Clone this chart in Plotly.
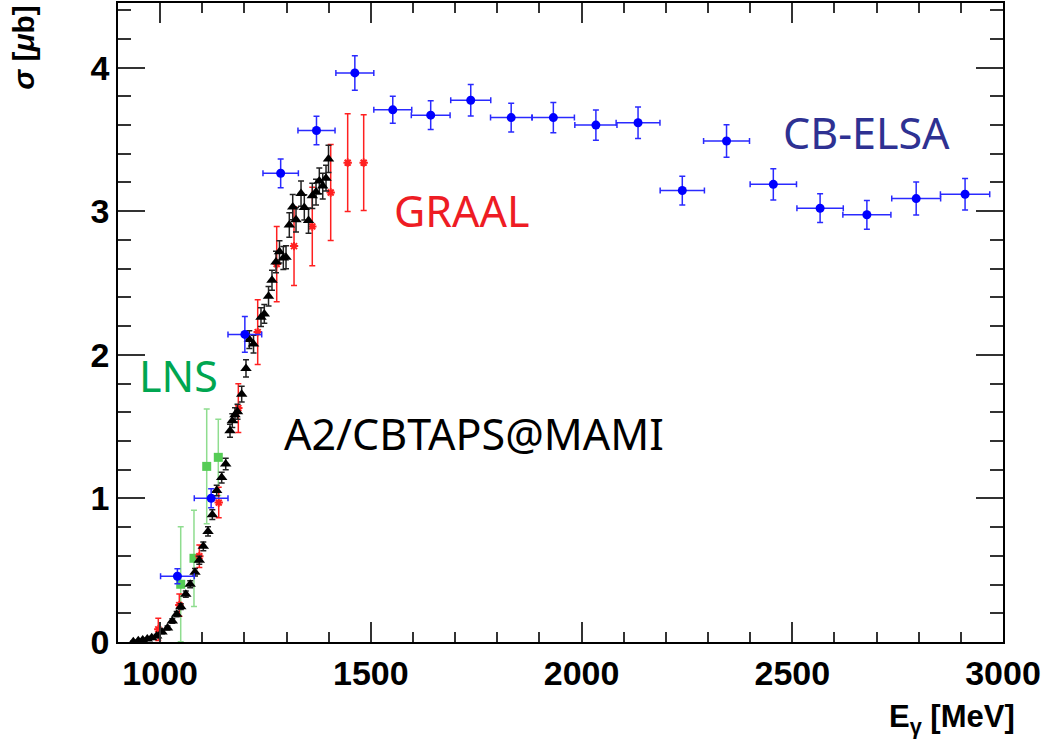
import plotly.graph_objects as go

# ---------------- data ----------------
# CB-ELSA
elsa_E = [1041, 1121, 1201, 1286, 1371, 1462, 1552, 1642, 1737, 1833,
          1933, 2034, 2134, 2239, 2344, 2455, 2566, 2677, 2794, 2910]
elsa_sig = [0.458, 1.001, 2.142, 3.264, 3.562, 3.963, 3.706, 3.669, 3.773, 3.652,
            3.652, 3.600, 3.616, 3.144, 3.489, 3.187, 3.021, 2.975, 3.088, 3.118]
elsa_dsig = [0.052, 0.066, 0.125, 0.100, 0.100, 0.120, 0.094, 0.100, 0.110, 0.100,
             0.105, 0.105, 0.110, 0.100, 0.113, 0.109, 0.100, 0.100, 0.115, 0.109]
elsa_dE = [40, 40, 40, 42, 44, 45, 45, 46, 47.5, 49,
           50, 50, 52, 52.5, 54.5, 55, 55, 57, 58, 58.5]

# GRAAL
graal_E = [995.6, 1045.5, 1093, 1139, 1185.5, 1231.5, 1276.6, 1317.7, 1361, 1404.7, 1445, 1483]
graal_sig = [0.088, 0.257, 0.597, 0.971, 1.629, 2.158, 2.632, 2.757, 2.894, 3.130, 3.338, 3.338]
graal_dsig = [0.077, 0.078, 0.078, 0.106, 0.170, 0.225, 0.262, 0.274, 0.273, 0.334, 0.340, 0.333]

# LNS
lns_E = [1048.8, 1080.3, 1110.5, 1138]
lns_sig = [0.402, 0.583, 1.223, 1.286]
lns_dsig = [0.400, 0.335, 0.400, 0.266]

# A2/CBTAPS@MAMI
a2_E = [936.3, 948.2, 958.6, 969.5, 980, 991.8, 1004.4, 1017.5, 1028.9, 1039.3,
        1049, 1060.9, 1071.3, 1082.7, 1092.9, 1102.4, 1113.6, 1123.8, 1134.2, 1146,
        1155.6, 1165.8, 1171.2, 1177.6, 1183.6, 1193.5, 1203.7, 1211.6, 1221.6, 1239.3,
        1247.2, 1257.2, 1265.4, 1274.9, 1283.2, 1292.3, 1298.7, 1306.5, 1314.6, 1322.4,
        1334.3, 1342.1, 1352.1, 1361.1, 1369.9, 1377.7, 1385.8, 1393.6, 1399.5]
a2_sig = [0.002, 0.009, 0.014, 0.021, 0.030, 0.042, 0.069, 0.097, 0.146, 0.194,
          0.246, 0.333, 0.402, 0.486, 0.569, 0.666, 0.770, 0.887, 1.055, 1.145,
          1.240, 1.471, 1.541, 1.582, 1.603, 1.726, 1.905, 2.106, 2.075, 2.262,
          2.285, 2.408, 2.519, 2.647, 2.717, 2.674, 2.679, 2.904, 3.029, 2.940,
          3.123, 3.026, 2.935, 3.107, 3.133, 3.211, 3.175, 3.230, 3.364]
a2_dsig = [0.005, 0.005, 0.006, 0.007, 0.008, 0.010, 0.012, 0.014, 0.016, 0.018,
           0.020, 0.022, 0.024, 0.026, 0.028, 0.030, 0.032, 0.034, 0.036, 0.038,
           0.040, 0.045, 0.048, 0.050, 0.052, 0.055, 0.060, 0.062, 0.062, 0.065,
           0.066, 0.068, 0.070, 0.075, 0.078, 0.080, 0.080, 0.085, 0.088, 0.085,
           0.088, 0.088, 0.088, 0.088, 0.090, 0.090, 0.090, 0.090, 0.095]

x_range = [900, 3000]
y_range = [0, 4.45]
x_tickvals = [1000, 1500, 2000, 2500, 3000]
x_ticktext = ["1000", "1500", "2000", "2500", "3000"]
y_tickvals = [0, 1, 2, 3, 4]
y_ticktext = ["0", "1", "2", "3", "4"]

# ---------------- figure ----------------
W, H = 1047, 747
L, R, T, B = 118, 44, 1, 105
pw, ph = W - L - R, H - T - B


def px2paper(px, py):
    return (px - L) / pw, (H - B - py) / ph


fig = go.Figure()

fig.add_trace(go.Scatter(
    x=lns_E, y=lns_sig, mode="markers", name="LNS",
    marker=dict(symbol="square", size=9, color="#55cc55"),
    error_y=dict(type="data", array=lns_dsig, color="#8fdd8f", thickness=1.5, width=3),
))
fig.add_trace(go.Scatter(
    x=graal_E, y=graal_sig, mode="markers", name="GRAAL",
    marker=dict(symbol="asterisk", size=7, color="#ff2020", line=dict(color="#ff2020", width=2)),
    error_y=dict(type="data", array=graal_dsig, color="#ff2020", thickness=1.5, width=3),
))
fig.add_trace(go.Scatter(
    x=a2_E, y=a2_sig, mode="markers", name="A2",
    marker=dict(symbol="triangle-up", size=10, color="black"),
    error_y=dict(type="data", array=a2_dsig, color="#222222", thickness=1.5, width=3),
))
fig.add_trace(go.Scatter(
    x=elsa_E, y=elsa_sig, mode="markers", name="CB-ELSA",
    marker=dict(symbol="circle", size=9, color="#0000ff"),
    error_y=dict(type="data", array=elsa_dsig, color="#2a2aff", thickness=1.5, width=3),
    error_x=dict(type="data", array=elsa_dE, color="#2a2aff", thickness=1.5, width=3),
))

axis_common = dict(
    showgrid=False, zeroline=False,
    showline=True, linecolor="black", linewidth=1.5,
    mirror="ticks", ticks="inside", tickcolor="#333333", tickwidth=1.5,
    tickfont=dict(family="Liberation Sans", size=34, color="black", weight="bold"),
)

fig.update_xaxes(range=x_range, tickvals=x_tickvals, ticktext=x_ticktext,
                 ticklen=20,
                 minor=dict(dtick=100, ticklen=10, ticks="inside", tickcolor="#333333", tickwidth=1.5),
                 **axis_common)
fig.update_yaxes(range=y_range, tickvals=y_tickvals, ticktext=y_ticktext,
                 ticklen=27,
                 minor=dict(dtick=0.2, ticklen=13, ticks="inside", tickcolor="#333333", tickwidth=1.5),
                 **axis_common)

labels = [
    ("CB-ELSA", 866, 131, "#2e3192"),
    ("GRAAL", 462, 209, "#ee1c24"),
    ("LNS", 178, 375, "#00a651"),
    ("A2/CBTAPS@MAMI", 474, 433, "black"),
]
for txt, px, py, col in labels:
    ax, ay = px2paper(px, py)
    fig.add_annotation(text=txt, x=ax, y=ay, xref="paper", yref="paper",
                       showarrow=False, xanchor="center", yanchor="middle",
                       font=dict(family="Noto Sans", size=43, color=col))

ax, ay = px2paper(1017, 719)
fig.add_annotation(text="<b>E<sub>γ</sub> [MeV]</b>", x=ax, y=ay, xref="paper", yref="paper",
                   showarrow=False, xanchor="right", yanchor="middle",
                   font=dict(family="Liberation Sans", size=31, color="black"))
ax, ay = px2paper(24, 46)
fig.add_annotation(text="<b><i>σ</i> [<i>μ</i>b]</b>", x=ax, y=ay, xref="paper", yref="paper",
                   showarrow=False, textangle=-90, xanchor="center", yanchor="middle",
                   font=dict(family="Liberation Sans", size=30, color="black"))

fig.update_layout(
    width=W, height=H,
    margin=dict(l=L, r=R, t=T, b=B),
    paper_bgcolor="white", plot_bgcolor="white",
    showlegend=False,
)

fig.write_html("out.html")
